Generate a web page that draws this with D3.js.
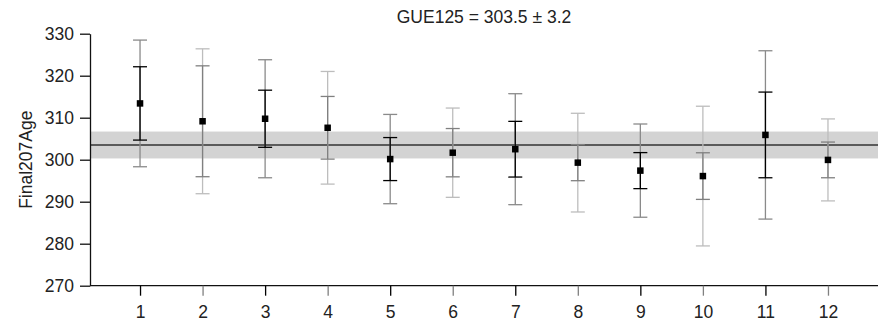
<!DOCTYPE html>
<html>
<head>
<meta charset="utf-8">
<script src="https://cdn.jsdelivr.net/npm/d3@7"></script>
<style>
  html, body { margin: 0; padding: 0; background: #fff; }
  svg { display: block; font-family: "Liberation Sans", Arial, Helvetica, sans-serif; }
</style>
</head>
<body>
<svg id="chart" width="883" height="326"></svg>
<script>
// Aliquot ages with inner (analytical) and outer (total) half-widths
const aliquots = [1, 2, 3, 4, 5, 6, 7, 8, 9, 10, 11, 12];
const ages     = [313.4, 309.15, 309.75, 307.6, 300.15, 301.67, 302.5, 299.3, 297.4, 296.1, 305.9, 299.95];
const innerErr = [8.73, 13.2, 6.8, 7.46, 5.12, 5.75, 6.63, 4.3, 4.29, 5.55, 10.2, 4.25];
const outerErr = [15.08, 17.25, 14.05, 13.41, 10.63, 10.63, 13.21, 11.75, 11.1, 16.63, 20.04, 9.76];

// Weighted mean and its uncertainty
const meanAge = 303.5;
const meanErr = 3.2;
const sampleName = "GUE125";

const yTicks = [270, 280, 290, 300, 310, 320, 330];
const yLabel = "Final207Age";

const svg = d3.select("#chart");
const margin = { left: 90, right: 5, top: 33.7, bottom: 40.3 };
const W = +svg.attr("width"), H = +svg.attr("height");
const x0 = margin.left, x1 = W - margin.right;
const y0 = margin.top, y1 = H - margin.bottom;

const x = d3.scaleLinear().domain([0.2, 12.8]).range([x0, x1]);
const y = d3.scaleLinear().domain([270, 330]).range([y1, y0]);

const fontSize = 17.5;

// alternating shades: full strength for odd aliquots, faded for even
const innerColor = i => (i % 2 === 0 ? "#000" : "#808080");
const outerColor = i => (i % 2 === 0 ? "#8a8a8a" : "#bdbdbd");

// mean band and line
svg.append("rect")
  .attr("x", x0).attr("width", x1 - x0)
  .attr("y", y(meanAge + meanErr))
  .attr("height", y(meanAge - meanErr) - y(meanAge + meanErr))
  .attr("fill", "#d3d3d3");

svg.append("line")
  .attr("x1", x0).attr("x2", x1)
  .attr("y1", y(meanAge)).attr("y2", y(meanAge))
  .attr("stroke", "#333").attr("stroke-width", 1.3);

// error bars
const capHalf = 7;
const g = svg.append("g");
aliquots.forEach((a, i) => {
  const cx = x(a);
  const grp = g.append("g");
  const bar = (err, color) => {
    const top = y(ages[i] + err), bot = y(ages[i] - err);
    grp.append("line").attr("x1", cx).attr("x2", cx).attr("y1", top).attr("y2", bot)
      .attr("stroke", color).attr("stroke-width", 1.3);
    [top, bot].forEach(yy => grp.append("line")
      .attr("x1", cx - capHalf).attr("x2", cx + capHalf).attr("y1", yy).attr("y2", yy)
      .attr("stroke", color).attr("stroke-width", 1.3));
  };
  bar(outerErr[i], outerColor(i));
  bar(innerErr[i], innerColor(i));
  const s = 6.5;
  grp.append("rect")
    .attr("x", cx - s / 2).attr("y", y(ages[i]) - s / 2)
    .attr("width", s).attr("height", s)
    .attr("fill", "#000");
});

// y axis
const yAxis = svg.append("g")
  .attr("transform", `translate(${x0},0)`)
  .call(d3.axisLeft(y).tickValues(yTicks).tickSize(10).tickPadding(6).tickSizeOuter(0));
yAxis.select(".domain").attr("stroke", "#111").attr("stroke-width", 1.3);
yAxis.selectAll(".tick line").attr("stroke", "#111").attr("stroke-width", 1.3);
yAxis.selectAll("text").attr("font-size", fontSize).attr("fill", "#222")
  .attr("font-family", "Liberation Sans, Arial, sans-serif");

// x axis
const xAxis = svg.append("g")
  .attr("transform", `translate(0,${y1})`)
  .call(d3.axisBottom(x).tickValues(aliquots).tickFormat(d3.format("d"))
    .tickSize(10).tickPadding(10).tickSizeOuter(0));
xAxis.select(".domain").attr("stroke", "#111").attr("stroke-width", 1.3)
  .attr("d", `M${x0},0H${x1}`);
xAxis.selectAll(".tick line")
  .attr("stroke", (d, i) => innerColor(i)).attr("stroke-width", 1.3);
xAxis.selectAll("text").attr("font-size", fontSize).attr("fill", "#222")
  .attr("font-family", "Liberation Sans, Arial, sans-serif");

// title
svg.append("text")
  .attr("x", (x0 + x1) / 2).attr("y", 23)
  .attr("text-anchor", "middle")
  .attr("font-size", fontSize).attr("fill", "#222")
  .text(`${sampleName} = ${meanAge.toFixed(1)} ± ${meanErr.toFixed(1)}`);

// y label
svg.append("text")
  .attr("transform", `translate(32,${(y0 + y1) / 2}) rotate(-90)`)
  .attr("text-anchor", "middle")
  .attr("font-size", fontSize).attr("fill", "#222")
  .text(yLabel);
</script>
</body>
</html>
